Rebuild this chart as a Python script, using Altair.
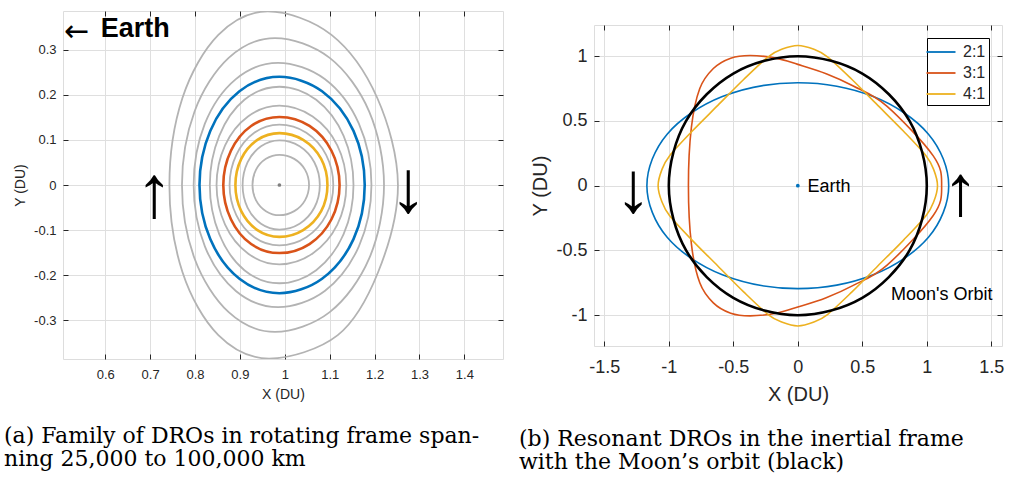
import altair as alt
import pandas as pd

SANS = "Liberation Sans"
SERIF = "DejaVu Serif"
INK = "#262626"
GRID = "#DFDFDF"
GRAY = "#B3B3B3"
BLUE = "#0072BD"
RED = "#D95319"
YELLOW = "#EDB120"

# ---------------- Panel (a): DRO family in the rotating frame ----------------
dro1_x = [0.743, 0.772, 0.852, 0.962, 1.104, 1.206, 1.252, 1.208, 1.118, 0.965, 0.852, 0.772]
dro1_y = [0.000, 0.193, 0.333, 0.385, 0.333, 0.193, 0.000, -0.193, -0.333, -0.385, -0.333, -0.193]
dro2_x = [0.771, 0.799, 0.875, 0.978, 1.100, 1.188, 1.221, 1.188, 1.100, 0.978, 0.875, 0.799]
dro2_y = [0.000, 0.163, 0.282, 0.326, 0.282, 0.163, 0.000, -0.163, -0.282, -0.326, -0.282, -0.163]
dro3_x = [0.797, 0.822, 0.891, 0.985, 1.089, 1.165, 1.193, 1.165, 1.089, 0.985, 0.891, 0.822]
dro3_y = [0.000, 0.136, 0.235, 0.271, 0.235, 0.136, 0.000, -0.136, -0.235, -0.271, -0.235, -0.136]
dro4_x = [0.810, 0.834, 0.899, 0.988, 1.083, 1.153, 1.178, 1.153, 1.083, 0.988, 0.899, 0.834]   # blue
dro4_y = [0.000, 0.120, 0.208, 0.240, 0.208, 0.120, 0.000, -0.120, -0.208, -0.240, -0.208, -0.120]
dro5_x = [0.833, 0.854, 0.910, 0.988, 1.070, 1.131, 1.153, 1.131, 1.070, 0.988, 0.910, 0.854]
dro5_y = [0.000, 0.109, 0.189, 0.218, 0.189, 0.109, 0.000, -0.109, -0.189, -0.218, -0.189, -0.109]
dro6_x = [0.848, 0.867, 0.918, 0.988, 1.062, 1.117, 1.137, 1.117, 1.062, 0.988, 0.918, 0.867]
dro6_y = [0.000, 0.088, 0.152, 0.176, 0.152, 0.088, 0.000, -0.088, -0.152, -0.176, -0.152, -0.088]
dro7_x = [0.863, 0.880, 0.925, 0.988, 1.055, 1.104, 1.122, 1.104, 1.055, 0.988, 0.925, 0.880]   # red
dro7_y = [0.000, 0.076, 0.131, 0.151, 0.131, 0.076, 0.000, -0.076, -0.131, -0.151, -0.131, -0.076]
dro8_x = [0.877, 0.892, 0.932, 0.988, 1.048, 1.092, 1.108, 1.092, 1.048, 0.988, 0.932, 0.892]
dro8_y = [0.000, 0.067, 0.116, 0.134, 0.116, 0.067, 0.000, -0.067, -0.116, -0.134, -0.116, -0.067]
dro9_x = [0.890, 0.903, 0.939, 0.988, 1.041, 1.081, 1.095, 1.081, 1.041, 0.988, 0.939, 0.903]   # yellow
dro9_y = [0.000, 0.058, 0.100, 0.115, 0.100, 0.058, 0.000, -0.058, -0.100, -0.115, -0.100, -0.058]
dro10_x = [0.906, 0.917, 0.947, 0.988, 1.033, 1.066, 1.078, 1.066, 1.033, 0.988, 0.947, 0.917]
dro10_y = [0.000, 0.050, 0.086, 0.099, 0.086, 0.050, 0.000, -0.050, -0.086, -0.099, -0.086, -0.050]
dro11_x = [0.928, 0.936, 0.958, 0.988, 1.021, 1.045, 1.054, 1.045, 1.021, 0.988, 0.958, 0.936]
dro11_y = [0.000, 0.034, 0.058, 0.067, 0.058, 0.034, 0.000, -0.034, -0.058, -0.067, -0.058, -0.034]

moon_pos_x = [0.988]
moon_pos_y = [0.0]

a_xticks = [0.6, 0.7, 0.8, 0.9, 1.0, 1.1, 1.2, 1.3, 1.4]
a_yticks = [-0.3, -0.2, -0.1, 0.0, 0.1, 0.2, 0.3]
a_arrow_x = [0.709, 1.275]
a_arrow_y = [-0.022, -0.010]
a_arrow_t = ["\u2191", "\u2193"]

caption_a = ["(a) Family of DROs in rotating frame span-", "ning 25,000 to 100,000 km"]

# ---------------- Panel (b): resonant DROs in the inertial frame ----------------
moon_orbit_x = [1.0, 0.866, 0.5, 0.0, -0.5, -0.866, -1.0, -0.866, -0.5, 0.0, 0.5, 0.866]
moon_orbit_y = [0.0, 0.5, 0.866, 1.0, 0.866, 0.5, 0.0, -0.5, -0.866, -1.0, -0.866, -0.5]

res21_x = [1.17, 1.013, 0.585, 0.0, -0.585, -1.013, -1.17, -1.013, -0.585, 0.0, 0.585, 1.013]
res21_y = [0.0, 0.398, 0.688, 0.795, 0.688, 0.398, 0.0, -0.398, -0.688, -0.795, -0.688, -0.398]

res31_x = [1.115, 1.05, 0.69, 0.43, 0.22, 0.0, -0.17, -0.37, -0.52, -0.655, -0.76, -0.825, -0.848,
           -0.825, -0.76, -0.655, -0.52, -0.37, -0.17, 0.0, 0.22, 0.43, 0.69, 1.05]
res31_y = [0.0, 0.23, 0.615, 0.77, 0.865, 0.937, 0.985, 1.005, 0.985, 0.905, 0.75, 0.45, 0.0,
           -0.45, -0.75, -0.905, -0.985, -1.005, -0.985, -0.937, -0.865, -0.77, -0.615, -0.23]

res41_x = [1.083, 1.055, 0.995, 0.82, 0.62, 0.42, 0.23, 0.12,
           0.0, -0.12, -0.23, -0.42, -0.62, -0.82, -0.995, -1.055,
           -1.083, -1.055, -0.995, -0.82, -0.62, -0.42, -0.23, -0.12,
           0.0, 0.12, 0.23, 0.42, 0.62, 0.82, 0.995, 1.055]
res41_y = [0.0, 0.12, 0.23, 0.42, 0.62, 0.82, 0.995, 1.055,
           1.083, 1.055, 0.995, 0.82, 0.62, 0.42, 0.23, 0.12,
           0.0, -0.12, -0.23, -0.42, -0.62, -0.82, -0.995, -1.055,
           -1.083, -1.055, -0.995, -0.82, -0.62, -0.42, -0.23, -0.12]

series_names = ["2:1", "3:1", "4:1"]
series_colors = [BLUE, RED, YELLOW]

b_xticks = [-1.5, -1.0, -0.5, 0.0, 0.5, 1.0, 1.5]
b_yticks = [-1.0, -0.5, 0.0, 0.5, 1.0]
b_arrow_x = [-1.274, 1.263]
b_arrow_y = [-0.030, -0.056]
b_arrow_t = ["\u2193", "\u2191"]

caption_b = ["(b) Resonant DROs in the inertial frame", "with the Moon\u2019s orbit (black)"]


def curve(name, xs, ys, col=GRAY):
    return pd.DataFrame({"x": xs, "y": ys, "k": list(range(len(xs))), "name": name, "c": col})


LABEL_EXPR = "replace(datum.label, '\u2212', '-')"


def axis(values, title, lsize, tsize, lpad, tpad):
    return alt.Axis(values=values, format="~g", labelExpr=LABEL_EXPR, title=title,
                    labelFont=SANS, titleFont=SANS, labelFontSize=lsize, titleFontSize=tsize,
                    titleFontWeight="normal", labelColor=INK, titleColor=INK,
                    grid=True, gridColor=GRID, gridWidth=1, domain=False, ticks=False,
                    labelFlush=False, labelOverlap=False,
                    labelPadding=lpad, titlePadding=tpad)


def tick_axis(orient, values):
    # inward tick marks on the frame (MATLAB box style)
    return alt.Axis(orient=orient, values=values, labels=False, ticks=True, tickSize=5,
                    tickColor=INK, tickWidth=1, domain=False, grid=False, title=None, offset=-5)


def tick_layers(xscale, yscale, xt, yt):
    one = pd.DataFrame({"x": [xt[len(xt) // 2]], "y": [yt[len(yt) // 2]]})
    ta = alt.Chart(one).mark_point(opacity=0).encode(
        x=alt.X("x:Q", scale=xscale, axis=tick_axis("top", xt)),
        y=alt.Y("y:Q", scale=yscale, axis=tick_axis("right", yt)))
    tb = alt.Chart(one).mark_point(opacity=0).encode(
        x=alt.X("x:Q", scale=xscale, axis=tick_axis("bottom", xt)),
        y=alt.Y("y:Q", scale=yscale, axis=tick_axis("left", yt)))
    return ta, tb


# ---------------- build panel (a) ----------------
gray_df = pd.concat([
    curve("g1", dro1_x, dro1_y), curve("g2", dro2_x, dro2_y), curve("g3", dro3_x, dro3_y),
    curve("g5", dro5_x, dro5_y), curve("g6", dro6_x, dro6_y), curve("g8", dro8_x, dro8_y),
    curve("g10", dro10_x, dro10_y), curve("g11", dro11_x, dro11_y),
])
col_df = pd.concat([
    curve("blue", dro4_x, dro4_y, BLUE), curve("red", dro7_x, dro7_y, RED),
    curve("yellow", dro9_x, dro9_y, YELLOW),
])

sxa = alt.Scale(domain=[0.506, 1.486], nice=False, zero=False)
sya = alt.Scale(domain=[-0.386, 0.386], nice=False, zero=False)
xa = alt.X("x:Q", scale=sxa, axis=axis(a_xticks, "X (DU)", 13, 14, 9, 6))
ya = alt.Y("y:Q", scale=sya, axis=axis(a_yticks, "Y (DU)", 13, 14, 7, 6))

a_gray = alt.Chart(gray_df).mark_line(interpolate="cardinal-closed", tension=0, color=GRAY,
                                      strokeWidth=1.8, clip=True).encode(
    x=xa, y=ya, detail="name:N", order="k:Q")
a_col = alt.Chart(col_df).mark_line(interpolate="cardinal-closed", tension=0, strokeWidth=2.6,
                                    clip=True).encode(
    x=xa, y=ya, detail="name:N", order="k:Q", color=alt.Color("c:N", scale=None))
a_moon = alt.Chart(pd.DataFrame({"x": moon_pos_x, "y": moon_pos_y})).mark_point(
    filled=True, size=14, color="#7F7F7F", opacity=1).encode(x=xa, y=ya)
a_arrows = alt.Chart(pd.DataFrame({"x": a_arrow_x, "y": a_arrow_y, "t": a_arrow_t})).mark_text(
    font="Liberation Serif", fontSize=74, color="black", baseline="middle", align="center").encode(
    x=xa, y=ya, text="t:N")
a_earth_arrow = alt.Chart(pd.DataFrame({"x": [0.537], "y": [0.340], "t": ["\u2190"]})).mark_text(
    font="DejaVu Sans", fontSize=30, color="black", baseline="middle", align="center").encode(
    x=xa, y=ya, text="t:N")
a_earth = alt.Chart(pd.DataFrame({"x": [0.590], "y": [0.346], "t": ["Earth"]})).mark_text(
    font=SANS, fontSize=27, fontWeight="bold", color="black", baseline="middle", align="left").encode(
    x=xa, y=ya, text="t:N")

a_main = alt.layer(a_gray, a_col, a_moon, a_arrows, a_earth_arrow, a_earth)
a_ta, a_tb = tick_layers(sxa, sya, a_xticks, a_yticks)

left = alt.layer(a_main, a_ta, a_tb).resolve_axis(x="independent", y="independent").properties(
    width=440, height=348,
    title=alt.TitleParams(text=caption_a, orient="bottom", anchor="start", frame="group",
                          dx=-59, offset=25, font=SERIF, fontSize=22, fontWeight="normal",
                          color="black", lineHeight=23))

# ---------------- build panel (b) ----------------
res_df = pd.concat([curve("2:1", res21_x, res21_y), curve("3:1", res31_x, res31_y),
                    curve("4:1", res41_x, res41_y)])
moon_df = curve("moon", moon_orbit_x, moon_orbit_y, "black")

sxb = alt.Scale(domain=[-1.58, 1.583], nice=False, zero=False)
syb = alt.Scale(domain=[-1.238, 1.241], nice=False, zero=False)
xb = alt.X("x:Q", scale=sxb, axis=axis(b_xticks, "X (DU)", 18, 20, 12, 8))
yb = alt.Y("y:Q", scale=syb, axis=axis(b_yticks, "Y (DU)", 18, 20, 7, 5))

b_res = alt.Chart(res_df).mark_line(interpolate="cardinal-closed", tension=0, strokeWidth=1.6,
                                    clip=True).encode(
    x=xb, y=yb, order="k:Q",
    color=alt.Color("name:N", scale=alt.Scale(domain=series_names, range=series_colors),
                    legend=alt.Legend(title=None, orient="top-right", offset=13,
                                      symbolType="M-1.45,0L1.45,0", symbolSize=400,
                                      symbolStrokeWidth=1.8,
                                      labelFont=SANS, labelFontSize=16, labelColor=INK,
                                      labelOffset=11, rowPadding=2, padding=3,
                                      strokeColor="black", fillColor="white")))
b_moon = alt.Chart(moon_df).mark_line(interpolate="cardinal-closed", tension=0, strokeWidth=2.6,
                                      color="black", clip=True).encode(x=xb, y=yb, order="k:Q")
b_earth_dot = alt.Chart(pd.DataFrame({"x": [0.0], "y": [0.0]})).mark_point(
    filled=True, size=14, color=BLUE, opacity=1).encode(x=xb, y=yb)
b_labels = alt.Chart(pd.DataFrame({"x": [0.075, 0.723], "y": [-0.01, -0.846],
                                   "t": ["Earth", "Moon's Orbit"]})).mark_text(
    font=SANS, fontSize=18, color="black", baseline="middle", align="left").encode(
    x=xb, y=yb, text="t:N")
b_arrows = alt.Chart(pd.DataFrame({"x": b_arrow_x, "y": b_arrow_y, "t": b_arrow_t})).mark_text(
    font="Liberation Serif", fontSize=72, color="black", baseline="middle", align="center").encode(
    x=xb, y=yb, text="t:N")

b_main = alt.layer(b_res, b_moon, b_earth_dot, b_labels, b_arrows)
b_ta, b_tb = tick_layers(sxb, syb, b_xticks, b_yticks)

right = alt.layer(b_main, b_ta, b_tb).resolve_axis(x="independent", y="independent").properties(
    width=408, height=321,
    title=alt.TitleParams(text=caption_b, orient="bottom", anchor="start", frame="group",
                          dx=-75, offset=25, font=SERIF, fontSize=22, fontWeight="normal",
                          color="black", lineHeight=23))

spacer = alt.Chart(pd.DataFrame({"v": [0]})).mark_point(opacity=0).encode(
    x=alt.value(0), y=alt.value(6)).properties(
    width=10, height=13, view=alt.ViewBackground(strokeOpacity=0))

right_col = alt.vconcat(spacer, right, spacing=0).resolve_scale(color="independent")

chart = alt.hconcat(left, right_col, spacing=14).resolve_scale(color="independent").properties(
    padding={"left": 3, "top": 10, "right": 5, "bottom": 5}
).configure_view(stroke=INK, strokeWidth=1).configure(background="white")

chart.save("out.html", embed_options={"renderer": "svg", "actions": False})
